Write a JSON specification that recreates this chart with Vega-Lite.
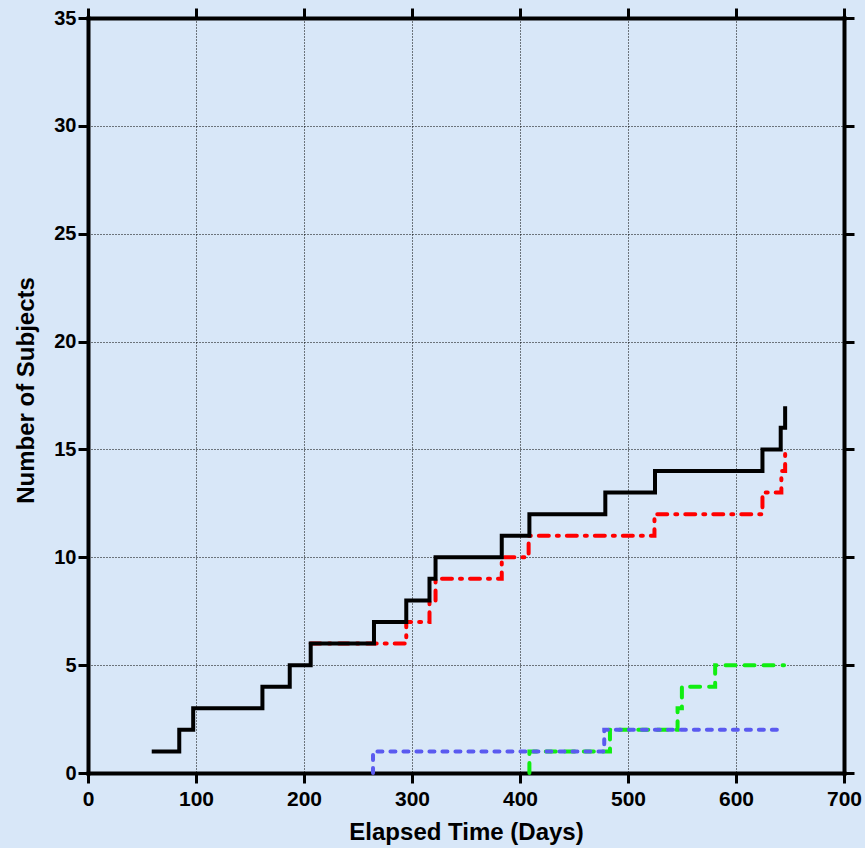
{
  "$schema": "https://vega.github.io/schema/vega-lite/v6.json",
  "width": 756,
  "height": 755,
  "autosize": "none",
  "padding": {"left": 88, "top": 18, "right": 21, "bottom": 75},
  "background": "#d8e7f8",
  "config": {
    "view": {"stroke": null}
  },
  "datasets": {
    "lines": [
      {"series": "black", "day": 59, "n": 1},
      {"series": "black", "day": 84.5, "n": 2},
      {"series": "black", "day": 97.4, "n": 3},
      {"series": "black", "day": 161.5, "n": 4},
      {"series": "black", "day": 186.8, "n": 5},
      {"series": "black", "day": 206.2, "n": 6},
      {"series": "black", "day": 264.8, "n": 7},
      {"series": "black", "day": 294.7, "n": 8},
      {"series": "black", "day": 316.2, "n": 9},
      {"series": "black", "day": 321.8, "n": 10},
      {"series": "black", "day": 383.1, "n": 11},
      {"series": "black", "day": 408.7, "n": 12},
      {"series": "black", "day": 479, "n": 13},
      {"series": "black", "day": 525, "n": 14},
      {"series": "black", "day": 624.5, "n": 15},
      {"series": "black", "day": 641.4, "n": 16},
      {"series": "black", "day": 645.5, "n": 17},
      {"series": "red", "day": 206.2, "n": 6},
      {"series": "red", "day": 294.7, "n": 7},
      {"series": "red", "day": 316.2, "n": 8},
      {"series": "red", "day": 321.8, "n": 9},
      {"series": "red", "day": 383.1, "n": 10},
      {"series": "red", "day": 408, "n": 11},
      {"series": "red", "day": 524.5, "n": 12},
      {"series": "red", "day": 624.5, "n": 13},
      {"series": "red", "day": 642, "n": 14},
      {"series": "red", "day": 645.5, "n": 15},
      {"series": "blue", "day": 263.9, "n": 0},
      {"series": "blue", "day": 263.9, "n": 1},
      {"series": "blue", "day": 478, "n": 2},
      {"series": "blue", "day": 640, "n": 2},
      {"series": "green", "day": 408.7, "n": 0},
      {"series": "green", "day": 408.7, "n": 1},
      {"series": "green", "day": 483.3, "n": 2},
      {"series": "green", "day": 545.9, "n": 3},
      {"series": "green", "day": 549.9, "n": 4},
      {"series": "green", "day": 580.7, "n": 5},
      {"series": "green", "day": 644.5, "n": 5}
    ]
  },
  "data": {"name": "lines"},
  "resolve": {"axis": {"x": "independent", "y": "independent"}},
  "layer": [
    {
      "transform": [{"filter": "datum.series === 'green'"}],
      "mark": {"type": "line", "interpolate": "step-after", "color": "#11ee11", "strokeWidth": 4, "strokeDash": [10, 9], "strokeCap": "round"},
      "encoding": {
        "x": {
          "field": "day", "type": "quantitative",
          "scale": {"domain": [0, 700], "nice": false, "zero": false},
          "axis": {
            "orient": "bottom",
            "tickCount": 8,
            "domainColor": "black", "domainWidth": 4, "domainCap": "square",
            "tickColor": "black", "tickWidth": 3, "tickSize": 10,
            "labelColor": "black", "labelFont": "Liberation Sans", "labelFontWeight": "bold", "labelFontSize": 21, "labelPadding": 5, "labelFlush": false,
            "title": "Elapsed Time (Days)",
            "titleColor": "black", "titleFont": "Liberation Sans", "titleFontWeight": "bold", "titleFontSize": 24,
            "titleBaseline": "alphabetic",
            "titleY": 66,
            "grid": true, "gridColor": "black", "gridDash": [1, 2], "gridWidth": 1
          }
        },
        "y": {
          "field": "n", "type": "quantitative",
          "scale": {"domain": [0, 35], "nice": false, "zero": false},
          "axis": {
            "orient": "left",
            "tickCount": 7,
            "domainColor": "black", "domainWidth": 4, "domainCap": "square",
            "tickColor": "black", "tickWidth": 3, "tickSize": 10,
            "labelColor": "black", "labelFont": "Liberation Sans", "labelFontWeight": "bold", "labelFontSize": 20, "labelPadding": 2, "labelFlush": false, "labelOverlap": false,
            "title": "Number of Subjects",
            "titleColor": "black", "titleFont": "Liberation Sans", "titleFontWeight": "bold", "titleFontSize": 24,
            "titleAngle": -90,
            "titleBaseline": "alphabetic",
            "titleAlign": "center",
            "titleX": -54.5,
            "titleY": 372,
            "grid": true, "gridColor": "black", "gridDash": [1, 2], "gridWidth": 1
          }
        }
      }
    },
    {
      "transform": [{"filter": "datum.series === 'blue'"}],
      "mark": {"type": "line", "interpolate": "step-after", "color": "#5a5af0", "strokeWidth": 4, "strokeDash": [5, 8], "strokeCap": "round"},
      "encoding": {
        "x": {
          "field": "day", "type": "quantitative",
          "scale": {"domain": [0, 700], "nice": false, "zero": false},
          "axis": {
            "orient": "top",
            "tickCount": 8,
            "domainColor": "black", "domainWidth": 4, "domainCap": "square",
            "tickColor": "black", "tickWidth": 3, "tickSize": 10,
            "labels": false,
            "title": null,
            "grid": false
          }
        },
        "y": {
          "field": "n", "type": "quantitative",
          "scale": {"domain": [0, 35], "nice": false, "zero": false},
          "axis": {
            "orient": "right",
            "tickCount": 7,
            "domainColor": "black", "domainWidth": 4, "domainCap": "square",
            "tickColor": "black", "tickWidth": 3, "tickSize": 10,
            "labels": false,
            "title": null,
            "grid": false
          }
        }
      }
    },
    {
      "transform": [{"filter": "datum.series === 'red'"}],
      "mark": {"type": "line", "interpolate": "step-after", "color": "#ff0000", "strokeWidth": 4, "strokeDash": [10, 8, 2, 8], "strokeCap": "round"},
      "encoding": {
        "x": {"field": "day", "type": "quantitative", "scale": {"domain": [0, 700], "nice": false, "zero": false}, "axis": null},
        "y": {"field": "n", "type": "quantitative", "scale": {"domain": [0, 35], "nice": false, "zero": false}, "axis": null}
      }
    },
    {
      "transform": [{"filter": "datum.series === 'black'"}],
      "mark": {"type": "line", "interpolate": "step-after", "color": "#000000", "strokeWidth": 4},
      "encoding": {
        "x": {"field": "day", "type": "quantitative", "scale": {"domain": [0, 700], "nice": false, "zero": false}, "axis": null},
        "y": {"field": "n", "type": "quantitative", "scale": {"domain": [0, 35], "nice": false, "zero": false}, "axis": null}
      }
    }
  ]
}
